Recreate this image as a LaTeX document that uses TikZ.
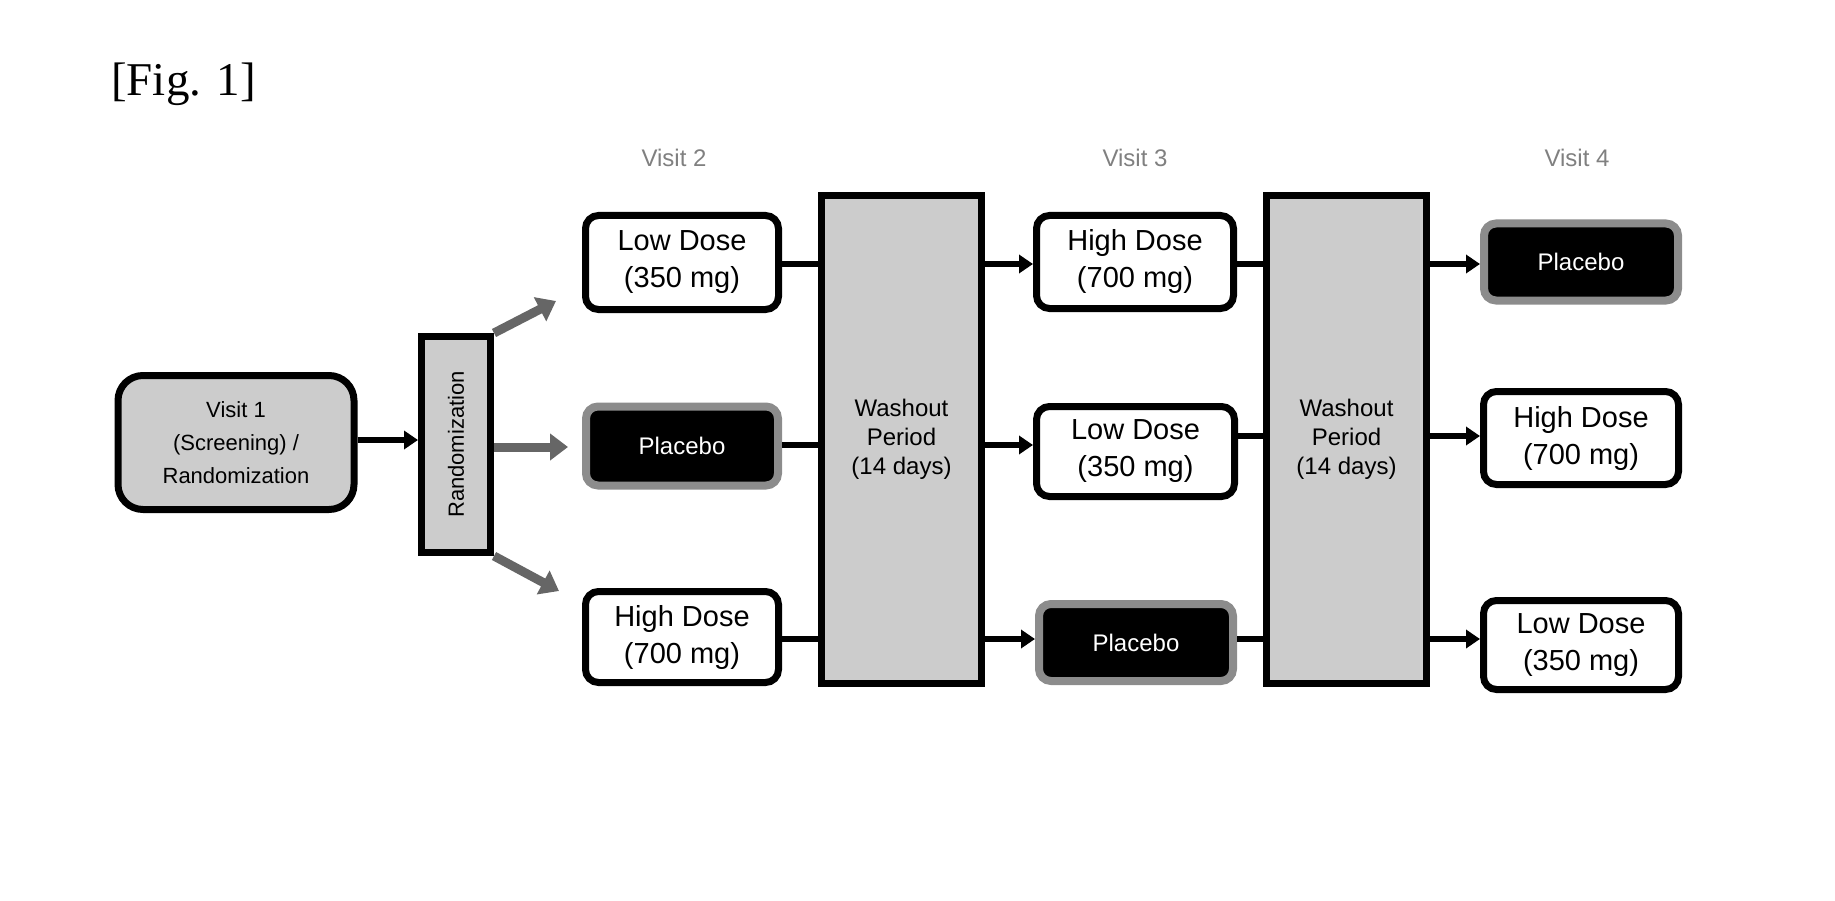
\documentclass[tikz,border=0pt]{standalone}
\usepackage{fontspec}
\setmainfont{Liberation Sans}
\newfontfamily\figfont{Liberation Serif}
\usetikzlibrary{arrows.meta}
\begin{document}
\begin{tikzpicture}[x=1pt,y=-1pt,
  base/.style={inner sep=0pt, align=center},
  graybox/.style={base, draw=black, line width=7pt, fill=black!20},
  whitebox/.style={base, draw=black, line width=7pt, fill=white, rounded corners=13pt,
    font=\fontsize{29}{37}\selectfont},
  placebo/.style={base, draw=black!45, line width=8pt, fill=black, rounded corners=12pt,
    text=white, font=\fontsize{24}{29}\selectfont},
  visitlabel/.style={base, text=black!50, font=\fontsize{24}{29}\selectfont},
  conn/.style={line width=6pt},
  arr/.style={line width=6pt, -{Triangle[length=14pt,width=18pt]}},
  randarr/.style={line width=9pt, draw=black!60, -{Triangle[length=18pt,width=26pt]}}
]
\useasboundingbox (0,0) rectangle (1835,901);

\node[anchor=base west, font=\figfont\fontsize{47}{56}\selectfont, inner sep=0pt] (fig) at (111,96) {[Fig. 1]};

% visit labels
\node[visitlabel] (v2lab) at (674,158) {Visit 2};
\node[visitlabel] (v3lab) at (1135,158) {Visit 3};
\node[visitlabel] (v4lab) at (1577,158) {Visit 4};

% visit 1 and randomization
\node[graybox, rounded corners=25pt, minimum width=236pt, minimum height=134pt,
  font=\fontsize{22}{33}\selectfont] (v1) at (236,442.5) {Visit 1\\(Screening) /\\Randomization};
\node[graybox, minimum width=69pt, minimum height=216pt] (rand) at (456,444.5)
  {\rotatebox{90}{\fontsize{22}{26}\selectfont Randomization}};

% visit 2 column
\node[whitebox, minimum width=193pt, minimum height=94pt] (lowA) at (682,262.5) {Low Dose\\(350 mg)};
\node[placebo, minimum width=192pt, minimum height=79pt] (plaA) at (682,446) {Placebo};
\node[whitebox, minimum width=193pt, minimum height=91pt] (highA) at (682,637) {High Dose\\(700 mg)};

% washout 1
\node[graybox, minimum width=160pt, minimum height=488pt, font=\fontsize{24}{29}\selectfont]
  (wash1) at (901.5,439.5) {Washout\\Period\\(14 days)};

% visit 3 column
\node[whitebox, minimum width=197pt, minimum height=93pt] (highB) at (1135,262) {High Dose\\(700 mg)};
\node[whitebox, minimum width=198pt, minimum height=90pt] (lowB) at (1135.5,451.5) {Low Dose\\(350 mg)};
\node[placebo, minimum width=194pt, minimum height=77pt] (plaB) at (1136,642.5) {Placebo};

% washout 2
\node[graybox, minimum width=160pt, minimum height=488pt, font=\fontsize{24}{29}\selectfont]
  (wash2) at (1346.5,439.5) {Washout\\Period\\(14 days)};

% visit 4 column
\node[placebo, minimum width=194pt, minimum height=77pt] (plaC) at (1581,262) {Placebo};
\node[whitebox, minimum width=195pt, minimum height=93pt] (highC) at (1581,438) {High Dose\\(700 mg)};
\node[whitebox, minimum width=195pt, minimum height=89pt] (lowC) at (1581,645) {Low Dose\\(350 mg)};

% row coordinates
\coordinate (r0) at (0,440);
\coordinate (r1) at (0,264);
\coordinate (r2) at (0,445);
\coordinate (r2b) at (0,436);
\coordinate (r3) at (0,639);
\coordinate (rm) at (0,447);
% free ends of the diagonal randomization arrows
\coordinate (upEnd) at (556,301);
\coordinate (downEnd) at (559,591);

% visit 1 -> randomization
\draw[arr] (v1.east |- r0) -- (rand.west |- r0);

% randomization arrows
\draw[randarr] (rand.north east) -- (upEnd);
\draw[randarr, shorten >=14pt] (rand.east |- rm) -- (plaA.west |- rm);
\draw[randarr] (rand.south east) -- (downEnd);

% visit 2 -> washout 1
\draw[conn] (lowA.east |- r1) -- (wash1.west |- r1);
\draw[conn] (plaA.east |- r2) -- (wash1.west |- r2);
\draw[conn] (highA.east |- r3) -- (wash1.west |- r3);

% washout 1 -> visit 3
\draw[arr] (wash1.east |- r1) -- (highB.west |- r1);
\draw[arr] (wash1.east |- r2) -- (lowB.west |- r2);
\draw[arr] (wash1.east |- r3) -- (plaB.west |- r3);

% visit 3 -> washout 2
\draw[conn] (highB.east |- r1) -- (wash2.west |- r1);
\draw[conn] (lowB.east |- r2b) -- (wash2.west |- r2b);
\draw[conn] (plaB.east |- r3) -- (wash2.west |- r3);

% washout 2 -> visit 4
\draw[arr] (wash2.east |- r1) -- (plaC.west |- r1);
\draw[arr] (wash2.east |- r2b) -- (highC.west |- r2b);
\draw[arr] (wash2.east |- r3) -- (lowC.west |- r3);
\end{tikzpicture}
\end{document}
